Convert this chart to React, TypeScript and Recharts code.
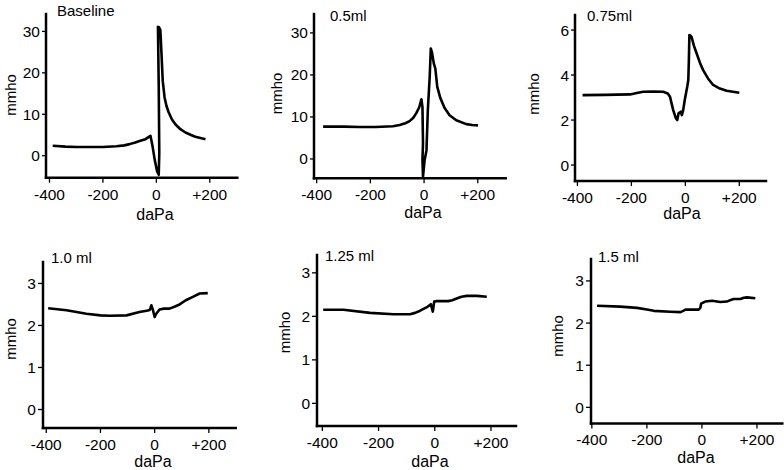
import { LineChart, Line, XAxis, YAxis } from "recharts";

// pressure (daPa) and admittance (mmho)
const baselinePressure = [-388, -340, -300, -250, -200, -150, -120, -100, -79, -60, -41, -22, -14, -6, 3, 9, 11, 9, 6, 10, 15, 19, 24, 31, 38, 46, 58, 71, 90, 109, 130, 146, 165, 184];
const baselineAdmittance = [2.4, 2.2, 2.1, 2.1, 2.1, 2.3, 2.5, 2.8, 3.2, 3.6, 4.0, 4.8, 2.2, -1.0, -3.8, -4.6, 0.6, 16.6, 31.1, 31.0, 30.3, 25.0, 18.0, 14.0, 12.0, 10.5, 8.8, 7.6, 6.4, 5.6, 5.0, 4.6, 4.3, 4.0];

const ml050Pressure = [-376, -300, -240, -180, -116, -91, -70, -54, -40, -29, -18, -10, -6, -4, -6, -4, 2, 9, 14, 21, 25, 30, 36, 42, 49, 60, 76, 95, 120, 157, 180, 201];
const ml050Admittance = [7.7, 7.7, 7.6, 7.6, 7.8, 8.1, 8.5, 9.0, 9.8, 10.9, 12.3, 14.2, 12.4, 3.7, -0.2, -4.2, -0.3, 2.1, 11.6, 19.6, 26.3, 25.2, 22.8, 21.5, 17.2, 14.6, 12.2, 10.4, 9.2, 8.3, 8.1, 8.0];

const ml075Pressure = [-381, -300, -205, -180, -156, -120, -82, -65, -57, -45, -35, -30, -25, -17, -13, -8, -2, 7, 11, 13, 15, 19, 23, 32, 42, 54, 66, 84, 103, 128, 153, 200];
const ml075Admittance = [3.11, 3.12, 3.14, 3.2, 3.26, 3.27, 3.26, 3.18, 3.04, 2.44, 2.08, 2.0, 2.3, 2.37, 2.22, 2.44, 2.9, 3.48, 3.78, 4.6, 5.78, 5.75, 5.7, 5.3, 4.96, 4.55, 4.22, 3.85, 3.56, 3.4, 3.3, 3.21];

const ml100Pressure = [-393, -325, -252, -200, -166, -104, -56, -30, -18, -12, -6, 0, 6, 18, 35, 55, 75, 92, 115, 141, 166, 196];
const ml100Admittance = [2.41, 2.36, 2.28, 2.24, 2.23, 2.24, 2.32, 2.35, 2.37, 2.48, 2.36, 2.2, 2.28, 2.38, 2.4, 2.4, 2.45, 2.5, 2.6, 2.68, 2.76, 2.77];

const ml125Pressure = [-397, -325, -230, -147, -88, -70, -52, -28, -14, -7, -2, 7, 48, 62, 78, 95, 114, 150, 185];
const ml125Admittance = [2.15, 2.15, 2.08, 2.05, 2.05, 2.08, 2.13, 2.21, 2.28, 2.11, 2.34, 2.35, 2.35, 2.37, 2.41, 2.45, 2.47, 2.47, 2.45];

const ml150Pressure = [-381, -297, -236, -200, -175, -115, -78, -68, -60, -42, -12, -6, -3, 12, 37, 67, 91, 105, 115, 140, 152, 164, 194];
const ml150Admittance = [2.41, 2.39, 2.36, 2.32, 2.29, 2.27, 2.26, 2.29, 2.32, 2.32, 2.32, 2.36, 2.46, 2.51, 2.53, 2.5, 2.51, 2.55, 2.57, 2.57, 2.6, 2.61, 2.59];

const pressureTicks = [-400, -200, 0, 200];
const bigTicks = [0, 10, 20, 30];
const midTicks = [0, 2, 4, 6];
const smallTicks = [0, 1, 2, 3];

const FONT = '"Liberation Sans", Arial, Helvetica, sans-serif';

function zip(p: number[], g: number[]) {
  return p.map((x, i) => ({ p: x, g: g[i] }));
}

interface PanelProps {
  data: { p: number; g: number }[];
  axisX: number;
  axisY: number;
  top: number;
  right: number;
  xDomain: [number, number];
  yDomain: [number, number];
  yTicks: number[];
  tick: number;
}

function Panel({ data, axisX, axisY, top, right, xDomain, yDomain, yTicks, tick }: PanelProps) {
  const YW = 42;
  const XH = 36;
  const MT = 4;
  const MR = 2;
  const width = right - axisX + YW + MR;
  const height = axisY - top + MT + XH;
  const axisLine = { stroke: "#000", strokeWidth: 2.5, strokeLinecap: "square" as const };
  const tickLine = { stroke: "#000", strokeWidth: 1.3 };
  const tickStyle = { fill: "#000", fontSize: 15.5, fontFamily: FONT };

  return (
    <div style={{ position: "absolute", left: axisX - YW, top: top - MT }}>
      <LineChart width={width} height={height} data={data} margin={{ top: MT, right: MR, left: 0, bottom: 0 }}>
        <XAxis
          type="number"
          dataKey="p"
          domain={xDomain}
          ticks={pressureTicks}
          interval={0}
          allowDataOverflow
          height={XH}
          axisLine={axisLine}
          tickLine={tickLine}
          tickSize={5}
          tickMargin={6}
          tick={tickStyle}
          tickFormatter={(v: number) => (v > 0 ? `+${v}` : `${v}`)}
        />
        <YAxis
          type="number"
          domain={yDomain}
          ticks={yTicks}
          interval={0}
          allowDataOverflow
          width={YW}
          axisLine={axisLine}
          tickLine={tickLine}
          tickSize={tick}
          tickMargin={2}
          tick={tickStyle}
        />
        <Line
          type="linear"
          dataKey="g"
          stroke="#000"
          strokeWidth={2.6}
          strokeLinejoin="round"
          dot={false}
          activeDot={false}
          isAnimationActive={false}
        />
      </LineChart>
    </div>
  );
}

const titles = [
  { text: "Baseline", x: 57, y: 15.5 },
  { text: "0.5ml", x: 330, y: 21 },
  { text: "0.75ml", x: 587, y: 21 },
  { text: "1.0 ml", x: 51, y: 262.5 },
  { text: "1.25 ml", x: 325, y: 261 },
  { text: "1.5 ml", x: 598, y: 262 },
];

const xLabels = [
  { x: 155, y: 219.5 },
  { x: 423, y: 218 },
  { x: 682, y: 219 },
  { x: 153, y: 466.5 },
  { x: 430, y: 466.5 },
  { x: 696, y: 462.5 },
];

const yLabels = [
  { x: 15.5, y: 95 },
  { x: 282, y: 93.5 },
  { x: 538.5, y: 94 },
  { x: 15.5, y: 339 },
  { x: 289.5, y: 332.5 },
  { x: 563, y: 336 },
];

export default function App() {
  return (
    <div style={{ position: "absolute", left: 0, top: 0, width: 784, height: 470, background: "#fff" }}>
      <Panel data={zip(baselinePressure, baselineAdmittance)} axisX={45.7} axisY={177.7} top={14} right={237} xDomain={[-413, 303]} yDomain={[-5.3, 34.2]} yTicks={bigTicks} tick={4} />
      <Panel data={zip(ml050Pressure, ml050Admittance)} axisX={314.3} axisY={178.3} top={14} right={506} xDomain={[-410, 304]} yDomain={[-4.6, 34.5]} yTicks={bigTicks} tick={4} />
      <Panel data={zip(ml075Pressure, ml075Admittance)} axisX={575} axisY={181} top={15} right={766} xDomain={[-409, 299]} yDomain={[-0.71, 6.67]} yTicks={midTicks} tick={4} />
      <Panel data={zip(ml100Pressure, ml100Admittance)} axisX={43.3} axisY={427.7} top={261.7} right={236} xDomain={[-412, 299]} yDomain={[-0.44, 3.51]} yTicks={smallTicks} tick={5} />
      <Panel data={zip(ml125Pressure, ml125Admittance)} axisX={317} axisY={426} top={255} right={516} xDomain={[-419, 289]} yDomain={[-0.52, 3.41]} yTicks={smallTicks} tick={5} />
      <Panel data={zip(ml150Pressure, ml150Admittance)} axisX={590.7} axisY={423.7} top={259.3} right={782} xDomain={[-403, 292]} yDomain={[-0.38, 3.52]} yTicks={smallTicks} tick={5} />

      <svg width={784} height={470} style={{ position: "absolute", left: 0, top: 0, pointerEvents: "none" }}>
        {titles.map((t) => (
          <text key={t.text} x={t.x} y={t.y} fontSize={15} fontFamily={FONT} fill="#000">
            {t.text}
          </text>
        ))}
        {xLabels.map((l, i) => (
          <text key={`x${i}`} x={l.x} y={l.y} fontSize={16} fontFamily={FONT} fill="#000" textAnchor="middle">
            daPa
          </text>
        ))}
        {yLabels.map((l, i) => (
          <text
            key={`y${i}`}
            x={l.x}
            y={l.y}
            fontSize={15}
            fontFamily={FONT}
            fill="#000"
            textAnchor="middle"
            transform={`rotate(-90 ${l.x} ${l.y})`}
          >
            mmho
          </text>
        ))}
      </svg>
    </div>
  );
}
